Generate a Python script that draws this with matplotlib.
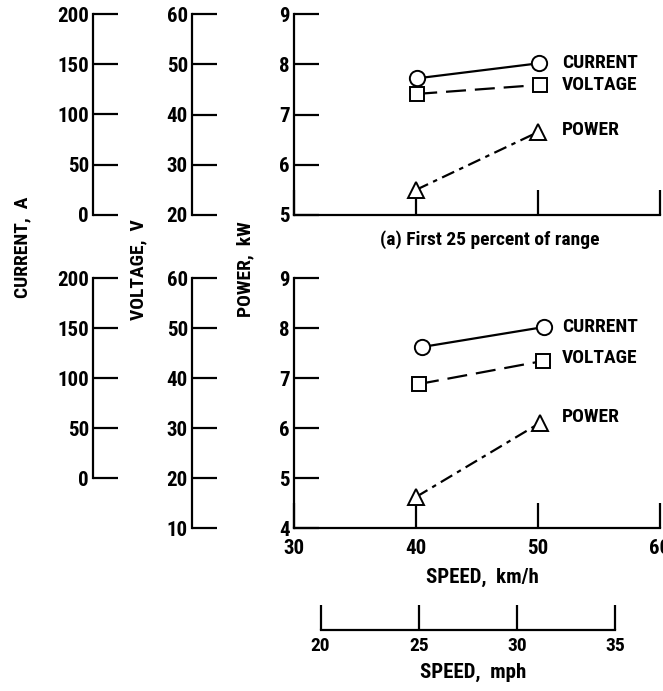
import matplotlib.pyplot as plt
from matplotlib import font_manager

# narrow lettering if one is available, else DejaVu
_have = {f.name for f in font_manager.fontManager.ttflist}
_narrow = [n for n in ['Liberation Sans Narrow', 'Roboto Condensed', 'PT Sans Narrow',
                       'Archivo Narrow', 'DejaVu Sans Condensed', 'Open Sans Condensed']
           if n in _have]
plt.rcParams['font.family'] = _narrow[:1] + ['DejaVu Sans']
plt.rcParams['font.weight'] = 'bold'

# (a) first 25 percent of range
speed_a_current = [40.1, 50.1]
current_a = [136, 151]          # A
speed_a_voltage = [40.1, 50.2]
voltage_a = [44.1, 45.9]        # V
speed_a_power = [40.0, 50.0]
power_a = [5.5, 6.65]           # kW

# (b) lower panel
speed_b_current = [40.5, 50.5]
current_b = [131, 151]
speed_b_voltage = [40.25, 50.4]
voltage_b = [38.8, 43.4]
speed_b_power = [40.0, 50.15]
power_b = [4.62, 6.1]

kmh_ticks = [30, 40, 50, 60]
mph_ticks = [20, 25, 30, 35]
KMH_PER_MPH = 1.609

W, H = 663, 691
fig = plt.figure(figsize=(W / 100, H / 100), dpi=100)

LW = 1.6
TICK = 18
X0, X1 = 294, 660


def px_box(x0, y0, x1, y1):
    # pixel box (top-left origin) -> figure fraction rect
    return [x0 / W, 1 - y1 / H, (x1 - x0) / W, (y1 - y0) / H]


def style_main(ax, ylim, yticks, xlabels):
    ax.set_xlim(30, 60)
    ax.set_ylim(*ylim)
    ax.set_yticks(yticks)
    ax.set_xticks(kmh_ticks)
    if not xlabels:
        ax.set_xticklabels([])
    for s in ('top', 'right'):
        ax.spines[s].set_visible(False)
    for s in ('left', 'bottom'):
        ax.spines[s].set_linewidth(LW)
    ax.tick_params(direction='in', length=TICK, width=LW, labelsize=15, pad=3)
    ax.tick_params(axis='x', pad=8)
    ax.patch.set_visible(False)


def side_axis(rect, ax, x_px, ylim, bounds, yticks):
    a = fig.add_axes(rect, sharex=ax)
    a.set_ylim(*ylim)
    a.set_yticks(yticks)
    for s in ('top', 'right', 'bottom'):
        a.spines[s].set_visible(False)
    a.spines['left'].set_position(('axes', (x_px - X0) / (X1 - X0)))
    a.spines['left'].set_bounds(*bounds)
    a.spines['left'].set_linewidth(LW)
    a.tick_params(axis='y', direction='in', length=TICK, width=LW, labelsize=15, pad=3)
    a.tick_params(axis='x', bottom=False, labelbottom=False)
    a.patch.set_visible(False)
    return a


def draw_panel(y0, y1, plim, pticks, vlim, vticks, clim, data, labels_y, xlabels):
    rect = px_box(X0, y0, X1, y1)
    ax = fig.add_axes(rect)
    style_main(ax, plim, pticks, xlabels)
    ax_v = side_axis(rect, ax, 192, vlim, vlim, vticks)
    ax_c = side_axis(rect, ax, 93, clim, (0, 200), [0, 50, 100, 150, 200])

    sc, c, sv, v, sp, p = data
    mk = dict(mfc='white', mec='black', mew=1.4, color='black', lw=LW, clip_on=False)
    ax_c.plot(sc, c, '-', marker='o', ms=11, **mk)
    ax_v.plot(sv, v, marker='s', ms=10, dashes=(9, 4), **mk)
    ax.plot(sp, p, marker='^', ms=11, dashes=(6, 2.5, 2, 2.5), **mk)

    for name, y in zip(['CURRENT', 'VOLTAGE', 'POWER'], labels_y):
        fig.text(562 / W, 1 - y / H, name, fontsize=14, va='center', ha='left')
    return ax


draw_panel(14, 215, (5, 9), [5, 6, 7, 8, 9],
           (20, 60), [20, 30, 40, 50, 60], (0, 200),
           (speed_a_current, current_a, speed_a_voltage, voltage_a, speed_a_power, power_a),
           [63, 85, 130], False)

draw_panel(278, 528, (4, 9), [4, 5, 6, 7, 8, 9],
           (10, 60), [10, 20, 30, 40, 50, 60], (-50, 200),
           (speed_b_current, current_b, speed_b_voltage, voltage_b, speed_b_power, power_b),
           [327, 358, 417], True)

# mph scale under the km/h axis
ax_m = fig.add_axes(px_box(X0, 600, X1, 630))
ax_m.set_xlim(30 / KMH_PER_MPH, 60 / KMH_PER_MPH)
ax_m.set_xticks(mph_ticks)
ax_m.set_yticks([])
for s in ('top', 'right', 'left'):
    ax_m.spines[s].set_visible(False)
ax_m.spines['bottom'].set_bounds(20, 35)
ax_m.spines['bottom'].set_linewidth(LW)
ax_m.tick_params(direction='in', length=TICK, width=LW, labelsize=14, pad=5)
ax_m.patch.set_visible(False)

label = dict(weight=600, ha='center', va='center')
fig.text(490 / W, 1 - 240 / H, '(a) First 25 percent of range', fontsize=14, ha='center', va='center')
fig.text(482 / W, 1 - 577 / H, 'SPEED,  km/h', fontsize=15, **label)
fig.text(473 / W, 1 - 672 / H, 'SPEED,  mph', fontsize=15, **label)
fig.text(22 / W, 1 - 247 / H, 'CURRENT,  A', fontsize=14, rotation=90, **label)
fig.text(138 / W, 1 - 270 / H, 'VOLTAGE,  V', fontsize=14, rotation=90, **label)
fig.text(245 / W, 1 - 269 / H, 'POWER,  kW', fontsize=14, rotation=90, **label)

fig.savefig('out.png', dpi=100)
